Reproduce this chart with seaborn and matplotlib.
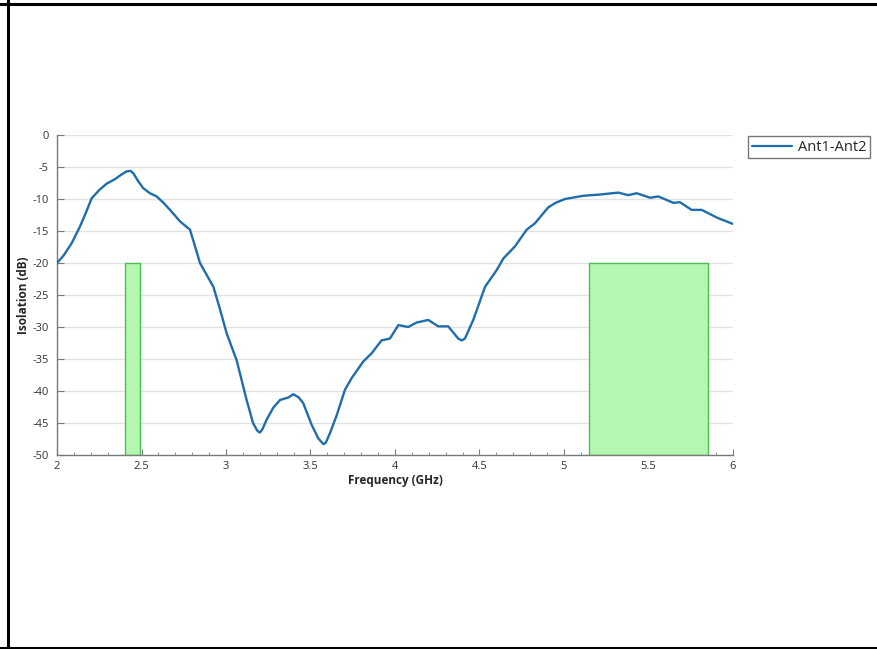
import numpy as np
import pandas as pd
import seaborn as sns
import matplotlib.pyplot as plt
from matplotlib.lines import Line2D
from matplotlib.ticker import MultipleLocator, FuncFormatter

# Isolation curve
freq = [2.0, 2.04, 2.087, 2.136, 2.17, 2.205, 2.25, 2.294, 2.343, 2.38, 2.41, 2.435, 2.452,
        2.48, 2.51, 2.55, 2.59, 2.63, 2.669, 2.728,
        2.787, 2.81, 2.846, 2.925, 2.96, 3.004, 3.063, 3.122, 3.16, 3.185, 3.2, 3.215, 3.24,
        3.28, 3.32, 3.37, 3.398, 3.43, 3.457,
        3.507, 3.546, 3.576, 3.59, 3.615, 3.655, 3.704, 3.743, 3.812, 3.862, 3.92, 3.97, 4.02,
        4.078, 4.128, 4.197, 4.256, 4.315, 4.374, 4.395, 4.414, 4.463, 4.533, 4.602, 4.641, 4.71,
        4.779, 4.828, 4.907, 4.95, 5.006, 5.114, 5.213, 5.321, 5.38, 5.43, 5.509, 5.558, 5.647,
        5.686, 5.755, 5.815, 5.904, 6.0]
isolation = [-20.0, -18.8, -16.9, -14.3, -12.2, -9.9, -8.6, -7.6, -6.9, -6.2, -5.7, -5.6, -6.0,
             -7.2, -8.3, -9.1, -9.6, -10.6, -11.7, -13.5,
             -14.8, -16.8, -20.0, -23.7, -26.8, -31.0, -35.2, -41.4, -45.0, -46.2, -46.5, -46.0, -44.5,
             -42.6, -41.4, -41.0, -40.5, -41.0, -41.9,
             -45.3, -47.4, -48.3, -48.1, -46.6, -43.8, -39.8, -38.0, -35.4, -34.1, -32.1, -31.8, -29.7,
             -30.0, -29.3, -28.9, -29.9, -29.9, -31.8, -32.1, -31.8, -28.9, -23.7, -21.1, -19.3, -17.4,
             -14.8, -13.8, -11.3, -10.6, -10.0, -9.5, -9.3, -9.0, -9.4, -9.1, -9.8, -9.6, -10.6,
             -10.5, -11.7, -11.7, -12.9, -13.9]

# shaded bands (GHz) and their top level (dB)
band_lo = [2.40, 5.15]
band_hi = [2.49, 5.85]
band_top = -20

df = pd.DataFrame({'Frequency (GHz)': freq, 'Isolation (dB)': isolation, 'series': 'Ant1-Ant2'})

sns.set_style("white")
plt.rcParams['axes.unicode_minus'] = False
plt.rcParams['font.family'] = ['Open Sans', 'DejaVu Sans']

fig = plt.figure(figsize=(8.78, 6.49), dpi=100)
ax = fig.add_axes([57/878, 1-455/649, 676/878, 320/649])

for lo, hi in zip(band_lo, band_hi):
    ax.fill_between([lo, hi], -50, band_top, facecolor='#b5f7b0', edgecolor='#4cc04c', lw=1, zorder=1)

sns.lineplot(data=df, x='Frequency (GHz)', y='Isolation (dB)', hue='series',
             palette=['#1f6dab'], linewidth=1.7, ax=ax, legend=False, zorder=3)
for ln in ax.get_lines():
    ln.set_solid_joinstyle('round')

ax.set_xlim(2, 6)
ax.set_ylim(-50, 0)
ax.xaxis.set_major_locator(MultipleLocator(0.5))
ax.xaxis.set_minor_locator(MultipleLocator(0.1))
ax.yaxis.set_major_locator(MultipleLocator(5))
ax.xaxis.set_major_formatter(FuncFormatter(lambda v, p: f'{v:g}'))
ax.yaxis.grid(True, color='#e2e2e2', lw=1)
ax.set_axisbelow(True)
for s in ['top', 'right']:
    ax.spines[s].set_visible(False)
for s in ['left', 'bottom']:
    ax.spines[s].set_color('#7a7a7a')
    ax.spines[s].set_linewidth(1)
ax.tick_params(axis='both', which='both', bottom=True, left=True)
ax.tick_params(axis='both', which='major', direction='in', length=4, color='#7a7a7a',
               labelsize=8, labelcolor='#333333', pad=4)
ax.tick_params(axis='x', which='minor', direction='in', length=2.5, color='#7a7a7a')
ax.tick_params(axis='y', which='major', direction='in', length=5, pad=6)
ax.set_xlabel('Frequency (GHz)', fontsize=8.5, fontweight='bold', labelpad=2)
ax.set_ylabel('Isolation (dB)', fontsize=8.5, fontweight='bold', labelpad=2)

handle = Line2D([], [], color='#1f6dab', lw=1.6)
leg = fig.legend([handle], ['Ant1-Ant2'], loc='upper left',
                 bbox_to_anchor=(748/878, 1-136/649), frameon=True, fancybox=False,
                 fontsize=10.5, handlelength=2.8, borderpad=0.25, handletextpad=0.4,
                 borderaxespad=0)
leg.get_frame().set_edgecolor('#555555')
leg.get_frame().set_linewidth(1)

# black frame around the picture (left, top, bottom)
for xs, ys in [([8/878, 8/878], [0, 1]), ([0, 1], [1-3.5/649, 1-3.5/649]), ([0, 1], [1.5/649, 1.5/649])]:
    fig.add_artist(Line2D(xs, ys, color='black', lw=2.2, transform=fig.transFigure))

plt.savefig('out.png', dpi=100)
